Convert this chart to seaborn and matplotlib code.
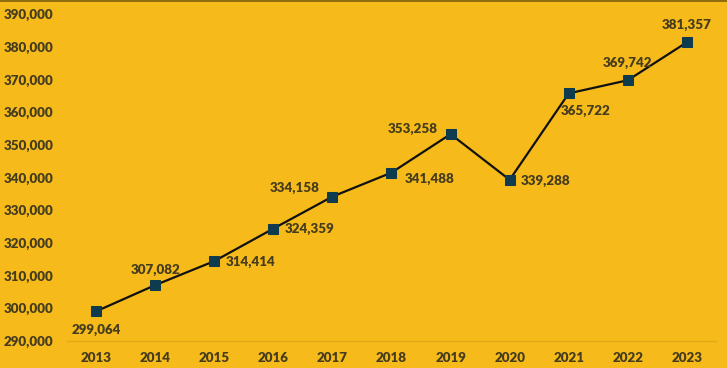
# Line chart of yearly totals with data labels on a yellow background

import pandas as pd
import seaborn as sb
import matplotlib.pyplot as plt

years = ["2013", "2014", "2015", "2016", "2017", "2018", "2019", "2020", "2021", "2022", "2023"]
values = [299064, 307082, 314414, 324359, 334158, 341488, 353258, 339288, 365722, 369742, 381357]
# label offsets (pixels) and alignment for each point
label_dx = [0, 0, 11, 11, -13, 13, -13, 11, 17, 0, 0]
label_dy = [-19, 15, -1, 0, 9, -6, 5, -1, -18, 17, 17]
label_ha = ["center", "center", "left", "left", "right", "left", "right", "left", "center", "center", "center"]

data = pd.DataFrame({"year": years, "value": values})

bg = "#F6BB1A"
txt = "#463C1E"

sb.set_theme(style="white")
plt.rcParams["font.family"] = ["Lato", "DejaVu Sans"]

fig = plt.figure(figsize=(7.27, 3.68), dpi=100, facecolor=bg)
ax = fig.add_axes([0.0915, 0.0734, 0.894, 0.8886])
ax.set_facecolor(bg)

sb.lineplot(x="year", y="value", data=data, ax=ax, color="#111111", linewidth=1.6,
            marker="s", markersize=6.5, markerfacecolor="#0E3B4E", markeredgecolor="#0E3B4E")

for i, v in enumerate(values):
    ax.annotate(f"{v:,}", (i, v), xytext=(label_dx[i], label_dy[i]), textcoords="offset pixels",
                ha=label_ha[i], va="center", fontsize=9.6, fontweight="heavy", color=txt)

ax.set_xlim(-0.5, len(years) - 0.5)
ax.set_ylim(290000, 390000)
ax.set_yticks(range(290000, 390001, 10000))
ax.set_yticklabels([f"{t:,}" for t in range(290000, 390001, 10000)])
ax.set_xlabel("")
ax.set_ylabel("")
ax.tick_params(axis="both", length=0, labelsize=9.6, labelcolor=txt)
ax.tick_params(axis="y", pad=9.5)
ax.tick_params(axis="x", pad=8)
for lbl in ax.get_xticklabels() + ax.get_yticklabels():
    lbl.set_fontweight("heavy")

for side in ["top", "right", "left"]:
    ax.spines[side].set_visible(False)
ax.spines["bottom"].set_color("#E0A816")
ax.spines["bottom"].set_linewidth(1)

# thin dark frame line along the top of the picture
fig.add_artist(plt.Line2D([0, 1], [0.998, 0.998], transform=fig.transFigure, color="#7A5E10", linewidth=1.2))

plt.savefig("out.png", dpi=100, facecolor=bg)
